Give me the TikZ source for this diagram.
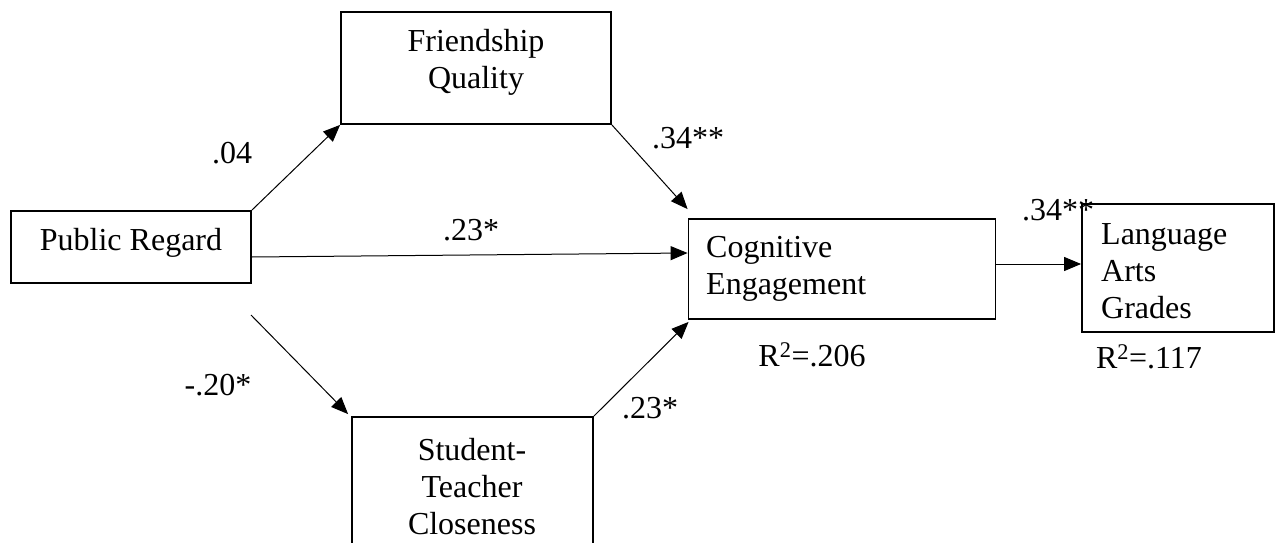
\documentclass[tikz,border=0pt]{standalone}
\usepackage{fontspec}
\setmainfont{Liberation Serif}
\usetikzlibrary{arrows.meta,calc}
\begin{document}
\begin{tikzpicture}[x=1pt,y=-1pt,
  box/.style={draw=black,line width=1.8pt,rectangle,inner sep=0pt},
  txt/.style={inner sep=0pt,font=\fontsize{32}{37}\selectfont},
  arr/.style={draw=black,line width=1pt,-{Triangle[length=17pt,width=14pt]}}]
\useasboundingbox (0,0) rectangle (1275,543);
% boxes
\node[box,minimum width=270pt,minimum height=112pt] (fq) at (476,68) {};
\node[box,minimum width=240pt,minimum height=72pt] (pr) at (131,247) {};
\node[box,minimum width=307pt,minimum height=100pt] (ce) at (842,269) {};
\node[box,minimum width=192pt,minimum height=128pt] (lag) at (1178,268) {};
\node[box,minimum width=241pt,minimum height=132pt] (st) at (472.5,483) {};
% box texts
\node[txt,align=center] (fqt) at (476,62) {Friendship\\Quality};
\node[txt] (prt) at (131,243) {Public Regard};
\node[txt,align=left,anchor=west] (cet) at (706,269) {Cognitive\\Engagement};
\node[txt,align=left,anchor=west] (lagt) at (1101,271) {Language\\Arts\\Grades};
\node[txt,align=center] (stt) at (472,487) {Student-\\Teacher\\Closeness};
% connectors
\coordinate (prs) at (251,315);
\draw[arr] (pr.north east) -- (fq.south west);
\draw[arr] ($(pr.east)+(0,10)$) -- ($(ce.west)+(0,-16)$);
\draw[arr] (prs) -- ($(st.north west)+(-3,-2)$);
\draw[arr] (fq.south east) -- ($(ce.north west)+(0,-9)$);
\draw[arr] (st.north east) -- ($(ce.south west)+(1,2)$);
\draw[arr] ($(ce.east)+(0,-5)$) -- ($(lag.west)+(0,-4)$);
% coefficient labels
\node[txt] (l04) at (232,153) {.04};
\node[txt] (l23a) at (471,230) {.23*};
\node[txt] (l34a) at (688,138) {.34**};
\node[txt] (l20) at (218,385) {-.20*};
\node[txt] (l23b) at (650,408) {.23*};
\node[txt] (l34b) at (1058,210) {.34**};
\node[txt] (r206) at (812,355) {R\textsuperscript{2}=.206};
\node[txt] (r117) at (1149,357) {R\textsuperscript{2}=.117};
\end{tikzpicture}
\end{document}
